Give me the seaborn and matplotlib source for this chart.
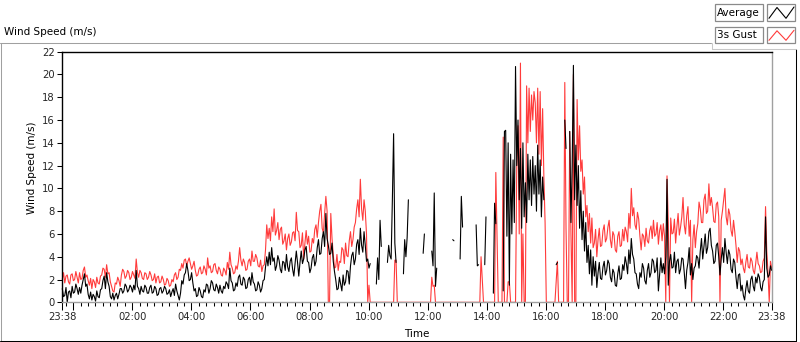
import numpy as np
import pandas as pd
import matplotlib
matplotlib.use("Agg")
import matplotlib.pyplot as plt
import seaborn as sns
from matplotlib.lines import Line2D
from matplotlib.patches import Rectangle

sns.set_theme(style="white")
plt.rcParams['font.family'] = ['DejaVu Sans']

nan = np.nan
# samples every 2.5 minutes from 23:38 to 23:38 next day
minutes = np.arange(0, 24 * 60 + 1, 2.5)

# 3 s gust (m/s), one row per hour
gust_speed = [
    2.0, 2.6, 1.7, 2.3, 2.4, 1.8, 1.6, 2.4, 2.5, 1.9, 2.0, 2.7, 2.2, 1.7, 2.6, 2.0, 2.1, 2.8, 3.1, 2.2, 2.4, 1.9, 1.5, 2.1,
    1.2, 2.0, 1.8, 1.3, 2.2, 1.7, 1.6, 2.3, 2.4, 3.0, 2.9, 2.2, 3.3, 2.5, 2.6, 1.8, 1.4, 1.0, 0.9, 1.7, 1.6, 2.2, 1.9, 1.4,
    2.4, 2.9, 2.7, 2.1, 2.3, 2.8, 2.6, 2.0, 2.2, 2.7, 2.4, 2.1, 3.8, 2.6, 2.2, 2.8, 2.6, 2.1, 2.0, 2.6, 2.5, 2.0, 2.2, 2.7,
    2.4, 1.9, 2.0, 2.5, 1.7, 2.2, 2.3, 1.7, 1.8, 2.3, 2.0, 1.5, 1.6, 2.1, 1.9, 1.4, 1.5, 2.0, 1.8, 2.4, 2.6, 2.0, 2.2, 2.9,
    2.8, 3.4, 3.0, 3.7, 3.8, 3.2, 3.6, 3.9, 3.4, 2.9, 3.2, 3.6, 2.8, 2.3, 2.4, 2.9, 3.1, 2.5, 2.6, 3.2, 2.9, 2.4, 3.9, 3.0,
    3.2, 2.6, 2.7, 3.3, 3.4, 2.8, 2.5, 3.1, 2.9, 2.4, 2.3, 3.0, 2.8, 2.4, 3.5, 2.9, 4.4, 3.3, 3.0, 2.5, 2.6, 3.2, 2.9, 3.6,
    4.8, 3.7, 3.2, 3.8, 3.5, 2.8, 2.9, 3.6, 3.8, 3.2, 4.5, 3.6, 3.6, 4.2, 3.9, 3.2, 3.1, 3.7, 2.7, 3.2, 3.3, 4.6, 6.8, 5.6,
    6.5, 5.4, 7.5, 6.2, 8.2, 5.9, 6.3, 7.0, 5.5, 6.4, 6.6, 5.1, 5.4, 6.0, 4.6, 5.6, 6.0, 5.0, 5.3, 6.1, 6.2, 5.4, 7.9, 6.3,
    6.2, 4.8, 5.0, 6.1, 3.8, 5.2, 6.3, 5.1, 5.8, 4.4, 4.5, 5.6, 5.2, 6.4, 6.8, 5.7, 7.0, 8.0, 8.6, 6.5, 6.1, 7.8, 9.3, 8.0,
    0.0, 0.0, 7.8, 5.6, 4.2, 3.0, 3.1, 4.2, 2.8, 3.6, 3.5, 4.8, 4.6, 3.4, 5.2, 4.1, 4.0, 5.4, 6.2, 4.9, 5.5, 6.6, 7.0, 8.2,
    9.0, 7.5, 10.8, 8.2, 7.2, 9.0, 8.0, 6.0, 0.0, 1.5, 0.0, 0.0, 0.0, 0.0, 0.0, 0.0, 0.0, 0.0, 0.0, 0.0, 0.0, 0.0, 0.0, 0.0,
    0.0, 0.0, 0.0, 0.0, 0.0, 0.0, 3.7, 3.7, 0.0, 0.0, 0.0, 0.0, 0.0, 0.0, 0.0, 0.0, 0.0, 0.0, 0.0, 0.0, 0.0, 0.0, 0.0, 0.0,
    0.0, 0.0, 0.0, 0.0, 0.0, 0.0, 0.0, 0.0, 0.0, 0.0, 0.0, 0.0, 2.2, 1.4, 1.5, 0.0, 0.0, 0.0, 0.0, 0.0, 0.0, 0.0, 0.0, 0.0,
    0.0, 0.0, 0.0, 0.0, 0.0, 0.0, 0.0, 0.0, 0.0, 0.0, 0.0, 0.0, 0.0, 0.0, 0.0, 0.0, 0.0, 0.0, 0.0, 0.0, 0.0, 0.0, 0.0, 0.0,
    0.0, 0.0, 0.0, 0.0, 4.0, 2.0, 0.0, 0.0, 0.0, 0.0, 0.0, 0.0, 0.0, 0.0, 0.0, 0.0, 11.4, 5.8, 0.0, 0.0, 0.0, 0.0, 14.5, 0.0,
    0.0, 0.0, 1.8, 1.8, 0.0, 0.0, 0.0, 0.0, 0.0, 12.0, 15.5, 6.0, 21.0, 0.0, 6.0, 0.0, 0.0, 19.0, 14.0, 18.8, 15.0, 18.2, 16.0, 18.5,
    17.5, 14.0, 18.8, 13.0, 18.5, 12.0, 17.0, 11.0, 7.0, 0.0, 0.0, 0.0, 0.0, 0.0, 0.0, 0.0, 0.0, 1.8, 3.6, 0.0, 0.0, 0.0, 0.0, 0.0,
    19.3, 6.5, 0.0, 0.0, 15.0, 6.0, 0.0, 20.0, 0.0, 0.0, 17.8, 12.5, 15.5, 11.5, 12.5, 9.5, 11.0, 7.5, 8.5, 6.2, 7.8, 5.2, 7.4, 4.8,
    5.2, 6.4, 4.0, 5.5, 6.5, 4.9, 5.0, 6.3, 6.8, 5.3, 5.6, 6.6, 7.2, 5.5, 4.8, 6.2, 5.9, 4.6, 4.4, 5.8, 6.2, 4.9, 5.0, 6.4,
    5.4, 6.6, 6.2, 5.3, 7.8, 6.5, 10.0, 7.6, 8.3, 6.8, 6.4, 7.9, 7.3, 5.8, 4.6, 6.0, 5.8, 4.9, 6.5, 5.4, 5.2, 6.3, 6.7, 5.6,
    7.2, 5.8, 6.0, 7.0, 5.1, 6.3, 6.8, 5.4, 6.9, 5.8, 0.0, 11.1, 7.0, 0.0, 7.4, 6.0, 6.1, 7.3, 5.2, 6.6, 7.8, 5.9, 6.6, 7.5,
    9.2, 6.8, 6.0, 7.6, 8.4, 5.8, 7.2, 0.0, 5.5, 6.8, 4.8, 6.2, 6.9, 8.8, 8.2, 7.0, 7.0, 9.0, 9.5, 7.8, 8.0, 10.4, 8.5, 9.2,
    8.3, 7.1, 7.0, 8.6, 8.8, 7.5, 0.0, 7.2, 8.0, 9.0, 10.0, 7.5, 6.8, 8.2, 7.7, 6.3, 5.8, 7.2, 6.2, 5.0, 3.5, 4.8, 4.5, 3.3,
    3.8, 3.0, 2.6, 3.5, 4.2, 3.1, 3.0, 3.9, 3.6, 2.8, 2.5, 3.4, 4.4, 3.4, 3.2, 2.6, 2.7, 3.6, 3.9, 8.4, 4.5, 2.6, 0.0, 3.6,
    3.0,
]

# average (m/s), gaps where no data
avg_speed = [
    1.2, 0.5, 0.6, 1.3, 0.0, 0.9, 1.0, 0.4, 1.4, 0.8, 0.9, 1.6, 1.2, 0.7, 1.3, 0.8, 1.5, 2.0, 2.5, 1.4, 1.6, 0.7, 0.3, 0.9,
    0.2, 0.7, 0.5, 0.1, 1.0, 0.5, 0.4, 1.1, 1.2, 1.9, 2.3, 1.2, 2.6, 1.8, 1.4, 0.5, 0.3, 0.8, 0.2, 0.6, 0.8, 0.3, 0.7, 1.2,
    1.2, 0.8, 1.0, 1.6, 1.4, 0.9, 1.1, 1.5, 1.3, 0.9, 1.5, 1.1, 2.8, 1.4, 1.2, 0.7, 1.4, 1.0, 0.9, 1.5, 1.3, 0.8, 0.8, 1.3,
    1.5, 0.8, 0.9, 1.4, 1.2, 0.6, 0.7, 1.2, 1.3, 0.8, 1.0, 1.4, 1.2, 0.7, 0.8, 1.1, 0.5, 0.9, 1.2, 0.6, 1.6, 1.0, 0.6, 0.2,
    0.8, 1.9, 1.6, 2.4, 2.6, 3.4, 2.8, 1.9, 2.0, 2.6, 1.7, 1.0, 1.2, 0.5, 0.6, 1.3, 1.0, 0.5, 0.4, 1.1, 0.9, 1.6, 1.5, 0.8,
    1.2, 1.9, 1.7, 1.1, 1.0, 1.6, 1.3, 0.8, 1.5, 1.0, 0.8, 1.4, 1.2, 1.8, 1.6, 1.2, 3.0, 1.9, 1.7, 1.0, 1.1, 1.7, 1.4, 2.2,
    2.4, 1.6, 1.5, 2.2, 2.0, 1.2, 1.3, 2.0, 2.2, 1.5, 2.6, 1.8, 1.6, 1.0, 1.1, 1.8, 1.5, 0.9, 1.2, 1.9, 2.0, 3.1, 4.0, 3.2,
    4.4, 3.3, 4.8, 3.6, 3.9, 2.8, 3.2, 4.1, 3.7, 2.9, 2.6, 3.6, 3.5, 2.8, 4.2, 3.1, 2.7, 3.6, 3.9, 2.9, 2.3, 3.4, 4.5, 3.5,
    2.3, 3.5, 4.5, 3.4, 3.8, 4.6, 4.9, 3.6, 3.5, 2.6, 3.0, 3.9, 4.2, 3.2, 3.6, 4.8, 5.5, 4.2, 4.3, 5.6, 6.2, 4.9, 7.8, 5.6,
    5.0, 4.2, 4.3, 5.2, 3.6, 2.7, 2.0, 1.1, 1.2, 2.2, 1.6, 1.0, 2.4, 1.5, 1.8, 2.8, 2.7, 1.6, 3.2, 4.1, 4.4, 3.3, 3.8, 5.1,
    5.5, 4.2, 6.5, 5.0, 4.4, 6.2, 5.0, 3.6, 3.8, 3.0, 3.4, nan, nan, nan, nan, 1.6, 3.9, 2.0, 7.2, 4.9, nan, nan, nan, nan,
    3.5, 5.0, 4.1, 3.8, 9.0, 14.8, 5.2, 3.5, nan, nan, nan, nan, nan, 2.5, 5.5, 4.0, 5.7, 9.0, nan, nan, nan, nan, nan, nan,
    nan, nan, nan, nan, nan, 4.3, 6.0, nan, nan, nan, nan, nan, 4.5, 3.2, 9.6, 1.4, 3.0, nan, nan, nan, nan, nan, nan, nan,
    nan, nan, nan, nan, nan, 5.5, 5.4, nan, nan, nan, nan, 3.8, 9.3, 6.6, nan, nan, nan, nan, nan, nan, nan, nan, nan, nan,
    6.8, 3.2, 3.3, nan, nan, nan, nan, 3.3, 7.5, nan, nan, nan, nan, nan, 0.8, 8.7, 6.9, nan, nan, nan, nan, nan, 1.0, 15.0,
    15.1, 5.8, 14.0, 1.5, 13.0, 6.0, 12.5, 7.0, 20.7, 12.0, 16.0, 9.0, 13.5, 6.5, 14.0, 7.5, 10.5, 7.0, 13.0, 9.0, 12.5, 8.5, 12.8, 9.5,
    12.0, 8.0, 13.8, 9.5, 12.5, 7.5, 11.0, 9.0, nan, nan, nan, nan, nan, nan, nan, nan, nan, 3.3, 3.5, nan, nan, nan, nan, nan,
    16.0, 13.5, nan, nan, 15.0, 7.0, 12.0, 20.8, 9.0, 13.8, 8.5, 12.0, 6.5, 9.8, 5.5, 8.0, 4.5, 7.0, 3.5, 5.0, 2.5, 4.6, 1.5, 4.0,
    2.3, 3.6, 1.3, 2.6, 3.5, 2.1, 2.0, 3.1, 3.6, 2.4, 2.8, 3.7, 3.4, 2.2, 1.8, 2.9, 2.6, 1.5, 1.4, 2.5, 3.2, 2.0, 2.1, 3.3,
    2.8, 4.0, 3.4, 2.5, 4.6, 3.4, 5.6, 4.2, 3.8, 2.6, 2.5, 1.6, 1.2, 2.6, 2.2, 3.4, 3.0, 1.9, 1.6, 2.8, 3.4, 2.2, 2.6, 3.8,
    3.6, 2.6, 2.8, 3.9, 1.0, 2.5, 3.9, 2.6, 3.4, 2.5, 4.0, 10.8, 1.5, 3.6, 4.2, 3.0, 3.1, 4.4, 2.6, 3.6, 3.8, 2.5, 2.9, 3.9,
    3.8, 2.6, 1.2, 2.8, 3.5, 4.8, 2.4, 3.4, 2.0, 3.0, 3.2, 4.1, 3.9, 3.0, 4.5, 5.6, 3.8, 4.9, 6.0, 4.3, 4.8, 6.2, 6.5, 5.0,
    4.5, 3.4, 3.6, 5.0, 5.2, 4.0, 2.4, 3.8, 4.8, 3.5, 5.6, 4.4, 3.4, 4.6, 4.2, 2.9, 2.6, 3.8, 3.5, 2.2, 1.2, 2.4, 2.5, 1.0,
    1.5, 0.6, 0.2, 1.2, 1.9, 1.0, 0.8, 2.0, 2.3, 1.4, 1.0, 2.2, 1.7, 2.5, 2.2, 1.3, 1.0, 1.8, 2.0, 7.5, 3.0, 2.2, 2.4, 3.2,
    2.8,
]

tick_labels = ['23:38', '', '02:00', '04:00', '06:00', '08:00', '10:00',
               '12:00', '14:00', '16:00', '18:00', '20:00', '22:00', '23:38']
y_ticks = [0, 2, 4, 6, 8, 10, 12, 14, 16, 18, 20, 22]

assert len(gust_speed) == len(minutes), len(gust_speed)
assert len(avg_speed) == len(minutes), len(avg_speed)

# ---------------------------------------------------------------
hours = minutes / 60.0
df = pd.DataFrame({'h': hours, 'gust': gust_speed, 'avg': avg_speed})
valid = df['avg'].notna()
df['seg'] = (valid & ~valid.shift(1, fill_value=False)).cumsum()
dfa = df[valid]

W, H = 800, 342
fig = plt.figure(figsize=(W / 100, H / 100), dpi=100)
fig.patch.set_facecolor('white')

def fx(x):
    return x / W

def fy(y):
    return 1 - y / H

L, R, T, B = 62.3, 771.7, 51.7, 302.3
ax = fig.add_axes([fx(L), fy(B), fx(R) - fx(L), fy(T) - fy(B)])
ax.set_facecolor('white')

RED = '#ff3b3b'
sns.lineplot(data=df, x='h', y='gust', color=RED, lw=0.8, ax=ax,
             estimator=None, legend=False, clip_on=False)
sns.lineplot(data=dfa, x='h', y='avg', units='seg', color='black', lw=0.8,
             ax=ax, estimator=None, legend=False, clip_on=False)

ax.set_xlim(0, 24)
ax.set_ylim(0, 22)

off = 22 / 60.0  # 23:38 -> 00:00
major = [0] + [off + 2 * k for k in range(12)] + [24]
ax.set_xticks(major)
ax.set_xticklabels(tick_labels)
minor = [7 / 60.0 + 0.25 * k for k in range(96)]
minor = [m for m in minor if m < 24 and all(abs(m - M) > 1e-6 for M in major)]
ax.set_xticks(minor, minor=True)
ax.set_yticks(y_ticks)
ax.set_yticklabels([str(v) for v in y_ticks])

ax.tick_params(axis='x', which='major', direction='out', length=5.5,
               width=0.75, color='black', pad=1.5, labelsize=7.2,
               bottom=True)
ax.tick_params(axis='x', which='minor', direction='out', length=3.2,
               width=0.75, color='black', bottom=True)
ax.tick_params(axis='y', which='major', direction='out', length=3.6,
               width=0.75, color='black', pad=2, labelsize=7.2, left=True)

for s in ['top', 'left']:
    ax.spines[s].set_color('black')
    ax.spines[s].set_linewidth(1.0)
for s in ['bottom', 'right']:
    ax.spines[s].set_color('#a0a0a0')
    ax.spines[s].set_linewidth(1.0)

ax.set_ylabel('Wind Speed (m/s)', fontsize=7.5, color='black')
ax.yaxis.set_label_coords(-0.0431, 0.538)
ax.set_xlabel('Time', fontsize=7.5, color='black')
ax.xaxis.set_label_coords(0.5, -0.1265)
ax.xaxis.label.set_va('center')
ax.yaxis.label.set_va('center')
ax.grid(False)

# window frame
def hline(x0, x1, y, color):
    fig.add_artist(Line2D([fx(x0), fx(x1)], [fy(y), fy(y)], color=color, lw=0.75))

def vline(x, y0, y1, color):
    fig.add_artist(Line2D([fx(x), fx(x)], [fy(y0), fy(y1)], color=color, lw=0.75))

hline(0, 711, 42.5, '#a0a0a0')
vline(0.5, 42.5, 340.5, '#a0a0a0')
hline(0, 796, 340.5, 'black')
vline(795.5, 49, 340.5, 'black')
vline(711.5, 42.5, 49, '#c8c8c8')
hline(711.5, 796, 49, '#c8c8c8')

fig.text(fx(4), fy(32), 'Wind Speed (m/s)', fontsize=7.5, va='center', ha='left',
         color='black')

# legend
def box(x0, y0, x1, y1):
    fig.add_artist(Rectangle((fx(x0), fy(y1)), fx(x1) - fx(x0), fy(y0) - fy(y1),
                             facecolor='white', edgecolor='#8a8a8a', lw=0.9,
                             transform=fig.transFigure))

for (y0, y1, label, col) in [(4, 21.3, 'Average', 'black'),
                             (27.3, 43.3, '3s Gust', RED)]:
    box(715, y0, 762.7, y1)
    box(766.7, y0, 795, y1)
    fig.text(fx(717), fy((y0 + y1) / 2), label, fontsize=7.5, va='center',
             ha='left', color='black')
    xs = [769, 777, 786, 794]
    ys = [y1 - 3, y0 + 3.5, y1 - 3, y0 + 3]
    fig.add_artist(Line2D([fx(v) for v in xs], [fy(v) for v in ys], color=col,
                          lw=0.8))

fig.savefig('out.png', dpi=100, facecolor='white')
